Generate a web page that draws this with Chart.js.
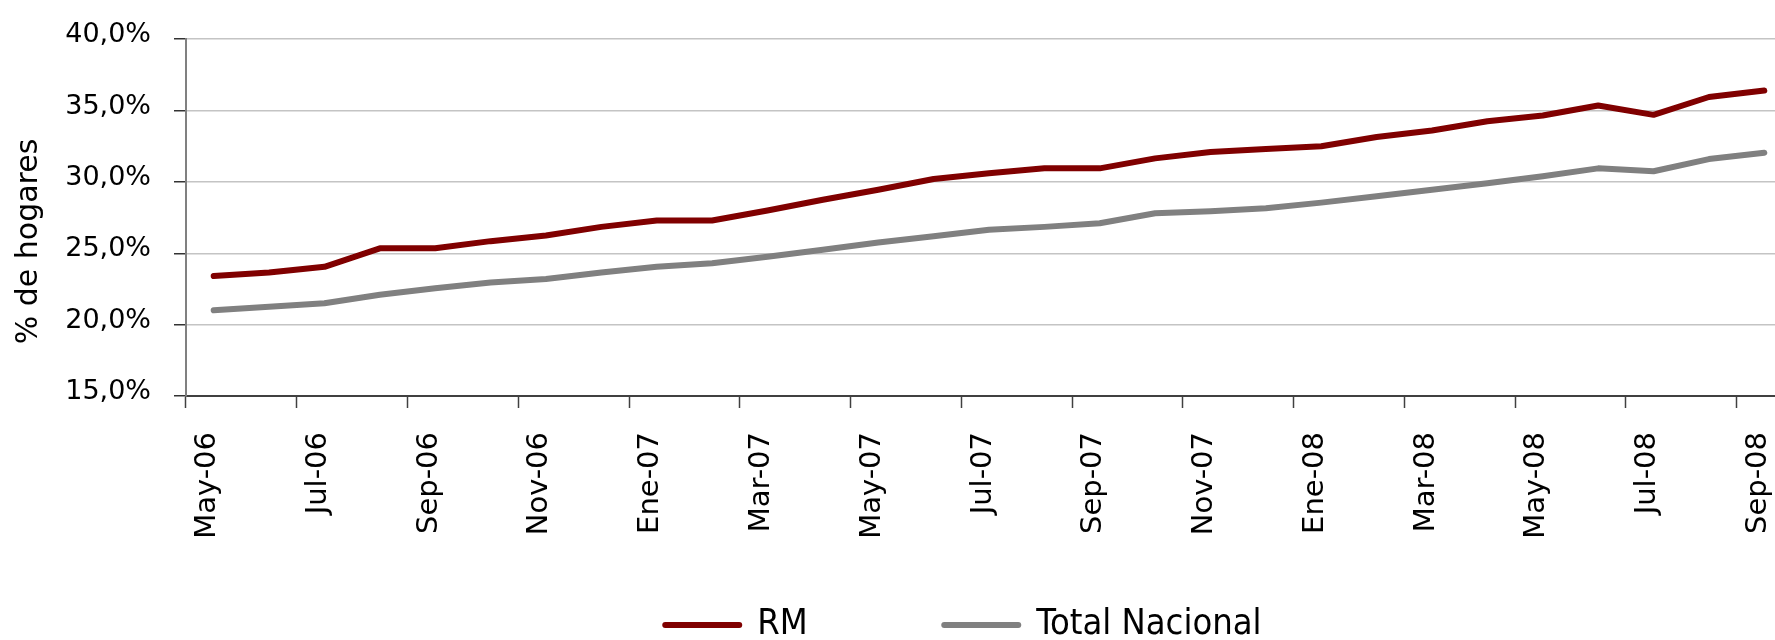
<!DOCTYPE html>
<html><head><meta charset="utf-8">
<script src="https://cdn.jsdelivr.net/npm/chart.js@4.4.1/dist/chart.umd.min.js"></script>
<style>html,body{margin:0;padding:0;background:#fff;overflow:hidden;width:1775px;height:640px}canvas{display:block}</style>
</head><body>
<canvas id="c" width="1792" height="640"></canvas>
<script>
const MONTHS = ['May-06','Jun-06','Jul-06','Ago-06','Sep-06','Oct-06','Nov-06','Dic-06',
  'Ene-07','Feb-07','Mar-07','Abr-07','May-07','Jun-07','Jul-07','Ago-07','Sep-07','Oct-07','Nov-07','Dic-07',
  'Ene-08','Feb-08','Mar-08','Abr-08','May-08','Jun-08','Jul-08','Ago-08','Sep-08'];
const RM = [23.4,23.65,24.05,25.35,25.35,25.85,26.25,26.85,
  27.3,27.3,28.0,28.75,29.45,30.2,30.6,30.95,30.95,31.65,32.1,32.3,
  32.5,33.15,33.6,34.25,34.65,35.35,34.7,35.95,36.4];
const TOTAL = [21.0,21.25,21.5,22.1,22.55,22.95,23.2,23.65,
  24.05,24.3,24.75,25.25,25.75,26.2,26.65,26.85,27.1,27.8,27.95,28.15,
  28.55,29.0,29.45,29.9,30.4,30.95,30.75,31.6,32.05];
const SERIES_NAMES = ['RM','Total Nacional'];
const Y_TITLE = '% de hogares';
const Y_MIN = 15, Y_MAX = 40, Y_STEP = 5;

const NBSP = '\u00A0';
const legendFont = {family: "'DejaVu Sans Condensed','DejaVu Sans',sans-serif", size: 36};

new Chart(document.getElementById('c'), {
  type: 'line',
  data: {
    labels: MONTHS,
    datasets: [
      {label: SERIES_NAMES[0], data: RM, borderColor: '#800000', backgroundColor: '#800000',
       borderWidth: 6, pointRadius: 0, tension: 0, borderCapStyle: 'round', borderJoinStyle: 'round'},
      {label: SERIES_NAMES[1], data: TOTAL, borderColor: '#808080', backgroundColor: '#808080',
       borderWidth: 6, pointRadius: 0, tension: 0, borderCapStyle: 'round', borderJoinStyle: 'round'}
    ]
  },
  options: {
    responsive: false,
    animation: false,
    devicePixelRatio: 1,
    layout: {padding: {top: 34, left: 0, right: 0, bottom: -13}},
    plugins: {
      tooltip: {enabled: false},
      legend: {
        position: 'bottom',
        labels: {
          usePointStyle: true, pointStyle: 'line', pointStyleWidth: 74, padding: 12,
          color: '#000', font: legendFont,
          generateLabels(chart) {
            const base = Chart.defaults.plugins.legend.labels.generateLabels(chart);
            base.forEach((it, i) => {
              const ds = chart.data.datasets[i];
              it.lineWidth = ds.borderWidth; it.strokeStyle = ds.borderColor; it.lineCap = 'round';
            });
            const spacer = t => ({text: t, fillStyle: 'rgba(0,0,0,0)', strokeStyle: 'rgba(0,0,0,0)',
              lineWidth: 0, pointStyle: 'line', hidden: false, fontColor: '#000'});
            return [spacer(NBSP.repeat(3)), base[0], spacer(NBSP.repeat(2)), base[1]];
          }
        }
      }
    },
    scales: {
      x: {
        type: 'category',
        offset: true,
        afterFit: s => { s.height = 199; s.paddingRight = 0; s.paddingLeft = 0; },
        grid: {offset: true, drawOnChartArea: false, drawTicks: true, tickLength: 12, tickWidth: 1.5,
               tickColor: c => (c.index % 2 === 0 ? '#404040' : 'rgba(0,0,0,0)')},
        border: {display: true, color: '#404040', width: 2},
        ticks: {autoSkip: false, maxRotation: 90, minRotation: 90, padding: 24, color: '#000', labelOffset: -6,
                font: {family: "'DejaVu Sans',sans-serif", size: 29},
                callback: (v, i) => (i % 2 === 0 ? MONTHS[i] : '')}
      },
      y: {
        min: Y_MIN, max: Y_MAX,
        afterFit: s => { s.width = 186; },
        grid: {color: '#c4c4c4', lineWidth: 1.5, drawTicks: true, tickLength: 12, tickColor: '#333', tickWidth: 1.5},
        border: {display: true, color: '#808080', width: 2},
        ticks: {stepSize: Y_STEP, padding: 23, color: '#000', labelOffset: -4,
                font: {family: "'DejaVu Sans',sans-serif", size: 27},
                callback: v => v.toFixed(1).replace('.', ',') + '%'},
        title: {display: true, text: Y_TITLE + NBSP.repeat(5), color: '#000',
                font: {family: "'DejaVu Sans',sans-serif", size: 30}, padding: {top: 11, bottom: 0}}
      }
    }
  }
});
</script>
</body></html>
